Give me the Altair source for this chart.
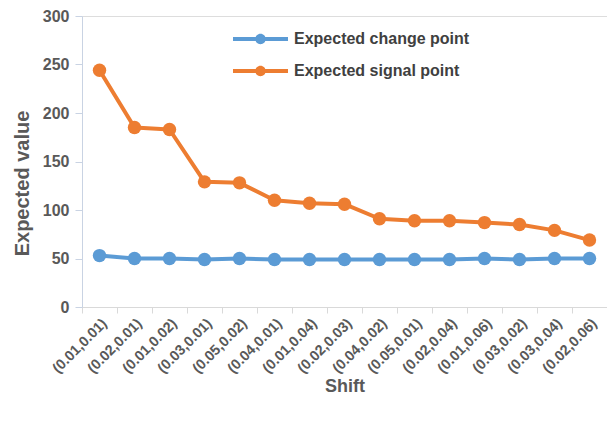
import altair as alt
import pandas as pd

shifts = ["(0.01,0.01)", "(0.02,0.01)", "(0.01,0.02)", "(0.03,0.01)", "(0.05,0.02)",
          "(0.04,0.01)", "(0.01,0.04)", "(0.02,0.03)", "(0.04,0.02)", "(0.05,0.01)",
          "(0.02,0.04)", "(0.01,0.06)", "(0.03,0.02)", "(0.03,0.04)", "(0.02,0.06)"]
change_point = [53, 50, 50, 49, 50, 49, 49, 49, 49, 49, 49, 50, 49, 50, 50]
signal_point = [244, 185, 183, 129, 128, 110, 107, 106, 91, 89, 89, 87, 85, 79, 69]
series_names = ["Expected change point", "Expected signal point"]
colors = ["#5B9BD5", "#ED7D31"]

rows = []
for i, s in enumerate(shifts):
    rows.append({"Shift": s, "Series": series_names[0], "Value": change_point[i]})
    rows.append({"Shift": s, "Series": series_names[1], "Value": signal_point[i]})
df = pd.DataFrame(rows)

FONT = "Liberation Sans"
GRAY = "#595959"

x = alt.X("Shift:N", sort=shifts,
          scale=alt.Scale(type="band", paddingInner=0, paddingOuter=0),
          axis=alt.Axis(title="Shift", labelAngle=-45, tickBand="extent",
                        labelFont=FONT, labelFontSize=14.5, labelColor=GRAY, labelFontWeight="bold",
                        titleFont=FONT, titleFontSize=18, titleColor=GRAY, titleFontWeight="bold",
                        titleY=79, titleBaseline="middle",
                        domainColor="#D9D9D9", tickColor="#D9D9D9", tickSize=6,
                        labelPadding=3, grid=False))
y = alt.Y("Value:Q", scale=alt.Scale(domain=[0, 300], nice=False),
          axis=alt.Axis(title="Expected value", values=[0, 50, 100, 150, 200, 250, 300],
                        labelFont=FONT, labelFontSize=16, labelColor=GRAY, labelFontWeight="bold",
                        titleFont=FONT, titleFontSize=20, titleColor=GRAY, titleFontWeight="bold",
                        titleX=-54, titleY=167, titleBaseline="alphabetic", titleAlign="center",
                        domainColor="#C9D3E3", tickColor="#C9D3E3", tickSize=7,
                        labelPadding=6, grid=False))
color = alt.Color("Series:N", sort=series_names,
                  scale=alt.Scale(domain=series_names, range=colors),
                  legend=alt.Legend(title=None, orient="none", legendX=151, legendY=14,
                                    symbolType="M-1,-0.07H1V0.07H-1Z M-0.19,0A0.19,0.19 0 1,1 0.19,0A0.19,0.19 0 1,1 -0.19,0Z",
                                    symbolSize=3025, symbolStrokeWidth=0,
                                    clipHeight=18, rowPadding=14,
                                    labelFont=FONT, labelFontSize=16, labelColor="#404040",
                                    labelFontWeight="bold", labelOffset=6, labelLimit=0))

base = alt.Chart(df).encode(x=x, y=y, color=color)
lines = base.mark_line(strokeWidth=4, strokeCap="round", strokeJoin="round")
points = base.mark_point(filled=True, opacity=1, size=180, shape="circle")

chart = alt.layer(lines, points).properties(
    width=525, height=291,
    autosize=alt.AutoSizeParams(type="none"),
    padding={"left": 82, "top": 16, "right": 0, "bottom": 116},
).configure_view(stroke=None).configure(background="white")

chart.save("out.html", embed_options={"renderer": "svg", "actions": False})
